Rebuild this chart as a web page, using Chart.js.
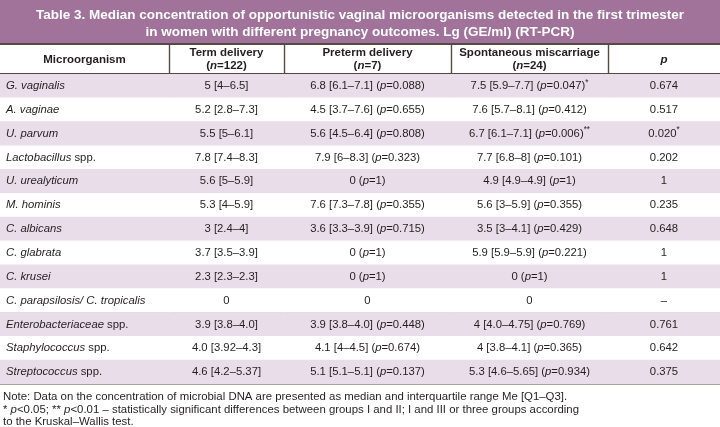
<!DOCTYPE html>
<html>
<head>
<meta charset="utf-8">
<script src="https://cdn.jsdelivr.net/npm/chart.js@4.4.1/dist/chart.umd.min.js"></script>
<style>
html,body{margin:0;padding:0;background:#ffffff;overflow:hidden}
canvas{display:block}
</style>
</head>
<body>
<canvas id="c" width="720" height="427"></canvas>
<script>
// ---------- DATA ----------
const tableTitle = [
  "Table 3. Median concentration of opportunistic vaginal microorganisms detected in the first trimester",
  "in women with different pregnancy outcomes. Lg (GE/ml) (RT-PCR)"
];
const columnHeaders = [
  ["Microorganism"],
  ["Term delivery", "(n=122)"],
  ["Preterm delivery", "(n=7)"],
  ["Spontaneous miscarriage", "(n=24)"],
  ["p"]
];
const microorganisms = [
  "G. vaginalis", "A. vaginae", "U. parvum", "Lactobacillus spp.", "U. urealyticum",
  "M. hominis", "C. albicans", "C. glabrata", "C. krusei", "C. parapsilosis/ C. tropicalis",
  "Enterobacteriaceae spp.", "Staphylococcus spp.", "Streptococcus spp."
];
const termDelivery = [
  "5 [4–6.5]", "5.2 [2.8–7.3]", "5.5 [5–6.1]", "7.8 [7.4–8.3]", "5.6 [5–5.9]",
  "5.3 [4–5.9]", "3 [2.4–4]", "3.7 [3.5–3.9]", "2.3 [2.3–2.3]", "0",
  "3.9 [3.8–4.0]", "4.0 [3.92–4.3]", "4.6 [4.2–5.37]"
];
const pretermDelivery = [
  "6.8 [6.1–7.1] (p=0.088)", "4.5 [3.7–7.6] (p=0.655)", "5.6 [4.5–6.4] (p=0.808)", "7.9 [6–8.3] (p=0.323)", "0 (p=1)",
  "7.6 [7.3–7.8] (p=0.355)", "3.6 [3.3–3.9] (p=0.715)", "0 (p=1)", "0 (p=1)", "0",
  "3.9 [3.8–4.0] (p=0.448)", "4.1 [4–4.5] (p=0.674)", "5.1 [5.1–5.1] (p=0.137)"
];
const spontaneousMiscarriage = [
  "7.5 [5.9–7.7] (p=0.047)*", "7.6 [5.7–8.1] (p=0.412)", "6.7 [6.1–7.1] (p=0.006)**", "7.7 [6.8–8] (p=0.101)", "4.9 [4.9–4.9] (p=1)",
  "5.6 [3–5.9] (p=0.355)", "3.5 [3–4.1] (p=0.429)", "5.9 [5.9–5.9] (p=0.221)", "0 (p=1)", "0",
  "4 [4.0–4.75] (p=0.769)", "4 [3.8–4.1] (p=0.365)", "5.3 [4.6–5.65] (p=0.934)"
];
const pValues = [
  "0.674", "0.517", "0.020*", "0.202", "1",
  "0.235", "0.648", "1", "1", "–",
  "0.761", "0.642", "0.375"
];
const noteLines = [
  "Note: Data on the concentration of microbial DNA are presented as median and interquartile range Me [Q1–Q3].",
  "* p<0.05; ** p<0.01 – statistically significant differences between groups I and II; I and III or three groups according",
  "to the Kruskal–Wallis test."
];

// ---------- LAYOUT / STYLE ----------
const FONT = '"Liberation Sans", Arial, Helvetica, sans-serif';
const COL_EDGES = [0, 169, 284, 451, 608, 720];
const W = 720, H = 427;
const TITLE_H = 43, HEADER_TOP = 45, TABLE_TOP = 74, TABLE_BOTTOM = 384;
const PURPLE = '#a1739a';
const LAVENDER = '#e9dde9';
const LINE = '#564a42';
const TEXT = '#231f20';
const BODY_SIZE = 11.3;

const columnValues = [microorganisms, termDelivery, pretermDelivery, spontaneousMiscarriage, pValues];

// ---------- RICH TEXT ----------
function parseName(s) {
  const m = s.match(/^(.*?)( spp\.)$/);
  if (m) return [{t: m[1], it: true}, {t: m[2]}];
  return [{t: s, it: true}];
}
function parseCell(s) {
  const segs = [];
  let sup = '';
  const m = s.match(/^(.*?[^*\s])(\*+)$/);
  if (m) { s = m[1]; sup = m[2]; }
  const re = /\b([pn])(?=[=<])/g;
  let last = 0, r;
  while ((r = re.exec(s))) {
    if (r.index > last) segs.push({t: s.slice(last, r.index)});
    segs.push({t: r[1], it: true});
    last = r.index + 1;
  }
  if (last < s.length) segs.push({t: s.slice(last)});
  if (sup) segs.push({t: sup, sup: true});
  return segs;
}
function fontFor(seg, size, bold) {
  const sz = seg.sup ? size * 0.72 : size;
  return (seg.it ? 'italic ' : '') + (bold ? 'bold ' : '') + sz + 'px ' + FONT;
}
function drawRich(ctx, segs, x, y, align, size, bold, color) {
  let total = 0;
  segs.forEach(s => { ctx.font = fontFor(s, size, bold); s.w = ctx.measureText(s.t).width; total += s.w; });
  let cx = align === 'center' ? x - total / 2 : x;
  ctx.fillStyle = color;
  ctx.textAlign = 'left';
  ctx.textBaseline = 'middle';
  segs.forEach(s => {
    ctx.font = fontFor(s, size, bold);
    ctx.fillText(s.t, cx, s.sup ? y - size * 0.3 : y);
    cx += s.w;
  });
}

// ---------- PLUGIN ----------
const tablePlugin = {
  id: 'tableText',
  beforeDraw(chart) {
    const ctx = chart.ctx;
    ctx.save();
    ctx.fillStyle = '#ffffff';
    ctx.fillRect(0, 0, W, H);
    ctx.fillStyle = PURPLE;
    ctx.fillRect(0, 0, W, TITLE_H);
    ctx.fillStyle = LINE;
    ctx.fillRect(0, TITLE_H, W, 2);
    ctx.restore();
  },
  afterDraw(chart) {
    const ctx = chart.ctx;
    const xs = chart.scales.x;
    const area = chart.chartArea;
    ctx.save();
    // title
    ctx.fillStyle = '#ffffff';
    ctx.textAlign = 'center';
    ctx.textBaseline = 'middle';
    ctx.font = 'bold 13.5px ' + FONT;
    ctx.fillText(tableTitle[0], W / 2, 15);
    ctx.fillText(tableTitle[1], W / 2, 32);
    // header dividers
    ctx.strokeStyle = LINE;
    ctx.lineWidth = 1.4;
    xs.ticks.forEach(t => {
      const px = Math.round(xs.getPixelForValue(t.value)) + 0.5;
      ctx.beginPath();
      ctx.moveTo(px, HEADER_TOP);
      ctx.lineTo(px, area.top);
      ctx.stroke();
    });
    // header text
    columnHeaders.forEach((lines, ci) => {
      const cx = (xs.getPixelForValue(COL_EDGES[ci]) + xs.getPixelForValue(COL_EDGES[ci + 1])) / 2;
      const mid = (HEADER_TOP + area.top) / 2;
      lines.forEach((ln, li) => {
        const y = lines.length === 1 ? mid : mid + (li - 0.5) * 13.5;
        const segs = ln === 'p' ? [{t: 'p', it: true}] : parseCell(ln);
        drawRich(ctx, segs, cx, y, 'center', 11.5, true, TEXT);
      });
    });
    // cell text
    chart.data.datasets.forEach((ds, di) => {
      const meta = chart.getDatasetMeta(di);
      meta.data.forEach((bar, ri) => {
        const left = Math.min(bar.x, bar.base), right = Math.max(bar.x, bar.base);
        const txt = ds.cellText[ri];
        if (di === 0) {
          drawRich(ctx, parseName(txt), left + 6, bar.y, 'left', BODY_SIZE, false, TEXT);
        } else {
          drawRich(ctx, parseCell(txt), (left + right) / 2, bar.y, 'center', BODY_SIZE, false, TEXT);
        }
      });
    });
    // notes
    noteLines.forEach((ln, i) => {
      drawRich(ctx, parseCell(ln), 3, area.bottom + 13 + i * 12.5, 'left', 11.4, false, TEXT);
    });
    ctx.restore();
  }
};

// ---------- CHART ----------
const rowColors = microorganisms.map((_, i) => i % 2 === 0 ? LAVENDER : '#ffffff');
const datasets = columnValues.map((vals, ci) => ({
  label: columnHeaders[ci].join(' '),
  data: microorganisms.map(() => [COL_EDGES[ci], COL_EDGES[ci + 1]]),
  cellText: vals,
  backgroundColor: rowColors,
  borderWidth: 0,
  barPercentage: 1,
  categoryPercentage: 1,
  grouped: false
}));

new Chart(document.getElementById('c'), {
  type: 'bar',
  data: { labels: microorganisms, datasets },
  options: {
    indexAxis: 'y',
    responsive: false,
    animation: false,
    events: [],
    layout: { padding: { top: TABLE_TOP, bottom: H - TABLE_BOTTOM, left: 0, right: 0 } },
    plugins: { legend: { display: false }, tooltip: { enabled: false }, title: { display: false } },
    scales: {
      x: {
        type: 'linear', min: 0, max: W, z: 1,
        afterBuildTicks: s => { s.ticks = COL_EDGES.slice(1, -1).map(v => ({ value: v })); },
        ticks: { display: false },
        grid: { color: LINE, lineWidth: 1.4, drawTicks: false },
        border: { display: false },
        afterFit: s => { s.height = 0; }
      },
      y: {
        type: 'category', z: 1,
        ticks: { display: false },
        grid: {
          offset: true, drawTicks: false, color: LINE,
          lineWidth: c => (c.index === undefined || c.index === 0) ? 1.6 : 0.9
        },
        border: { display: false },
        afterFit: s => { s.width = 0; }
      }
    }
  },
  plugins: [tablePlugin]
});
</script>
</body>
</html>
